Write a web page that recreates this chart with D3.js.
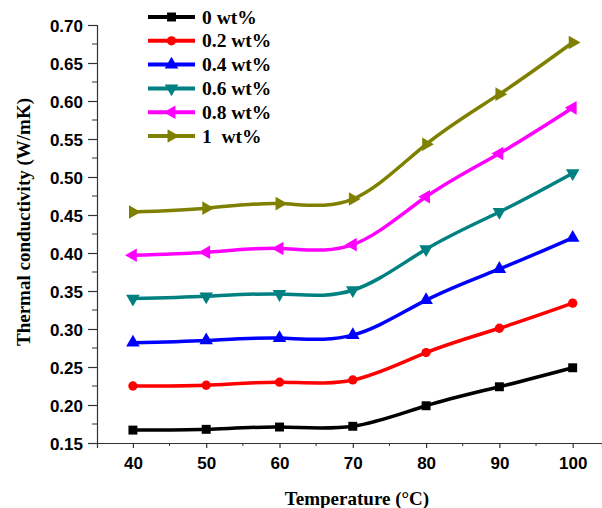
<!DOCTYPE html>
<html>
<head>
<meta charset="utf-8">
<script src="https://cdn.jsdelivr.net/npm/d3@7"></script>
<style>
  body { margin: 0; background: #fff; }
  svg { display: block; }
  .tick text { font-family: "Liberation Sans", Arial, sans-serif; font-weight: bold; font-size: 17px; fill: #000; }
  .title { font-family: "Liberation Serif", "Times New Roman", serif; font-weight: bold; font-size: 19px; fill: #000; }
  .leg { font-family: "Liberation Serif", "Times New Roman", serif; font-weight: bold; font-size: 19.5px; fill: #000; white-space: pre; }
</style>
</head>
<body>
<div id="chart"></div>
<script>
// data
var temps = [40, 50, 60, 70, 80, 90, 100];
var labels = ['0 wt%', '0.2 wt%', '0.4 wt%', '0.6 wt%', '0.8 wt%', '1  wt%'];
var colors = ['#000000', '#ff0000', '#0000ff', '#008080', '#ff00ff', '#808000'];
var markers = ['square', 'circle', 'up', 'down', 'left', 'right'];

var wt0  = [0.167, 0.168, 0.171, 0.172, 0.199, 0.224, 0.249];
var wt02 = [0.225, 0.226, 0.230, 0.233, 0.269, 0.301, 0.334];
var wt04 = [0.282, 0.285, 0.288, 0.292, 0.338, 0.379, 0.420];
var wt06 = [0.340, 0.343, 0.346, 0.351, 0.405, 0.454, 0.505];
var wt08 = [0.397, 0.401, 0.406, 0.411, 0.474, 0.531, 0.591];
var wt1  = [0.454, 0.459, 0.465, 0.471, 0.543, 0.609, 0.677];
var series = [wt0, wt02, wt04, wt06, wt08, wt1];

var yTicks = [0.15, 0.20, 0.25, 0.30, 0.35, 0.40, 0.45, 0.50, 0.55, 0.60, 0.65, 0.70];
var yMinor = [0.175, 0.225, 0.275, 0.325, 0.375, 0.425, 0.475, 0.525, 0.575, 0.625, 0.675];
var xTicks = [40, 50, 60, 70, 80, 90, 100];
var xMinor = [45, 55, 65, 75, 85, 95];

var W = 602, H = 508;
var svg = d3.select("#chart").append("svg").attr("width", W).attr("height", H);

var x = d3.scaleLinear().domain([35.1, 104]).range([97, 602]);
var y = d3.scaleLinear().domain([0.15, 0.70]).range([443, 25]);

// axes
var xAxis = svg.append("g").attr("transform", "translate(0,443)")
  .call(d3.axisBottom(x).tickValues(xTicks).tickSize(5).tickPadding(9).tickFormat(d3.format("d")));
xAxis.append("g").selectAll("line").data(xMinor).enter().append("line")
  .attr("x1", x).attr("x2", x).attr("y1", 0).attr("y2", 3).attr("stroke", "#333");

var yAxis = svg.append("g").attr("transform", "translate(97,0)")
  .call(d3.axisLeft(y).tickValues(yTicks).tickSize(9).tickPadding(5).tickFormat(d3.format(".2f")));
yAxis.append("g").selectAll("line").data(yMinor).enter().append("line")
  .attr("y1", y).attr("y2", y).attr("x1", 0).attr("x2", -5).attr("stroke", "#333");

svg.selectAll(".domain").attr("stroke", "#333").attr("stroke-width", 1.2);
svg.selectAll(".tick line").attr("stroke", "#333").attr("stroke-width", 1.2);
yAxis.selectAll(".tick text").attr("dy", "0.36em");
xAxis.selectAll(".tick text").attr("dy", "0.71em");

// titles
svg.append("text").attr("class", "title")
  .attr("x", 357).attr("y", 505).attr("text-anchor", "middle").text("Temperature (°C)");
svg.append("text").attr("class", "title")
  .attr("transform", "translate(30,222) rotate(-90)").attr("text-anchor", "middle")
  .text("Thermal conductivity (W/mK)");

// markers
function markerPath(type, size) {
  if (type == 'square') return d3.symbol().type(d3.symbolSquare).size(size)();
  if (type == 'circle') return d3.symbol().type(d3.symbolCircle).size(size * 0.85)();
  return d3.symbol().type(d3.symbolTriangle).size(size)();
}
function markerRot(type) {
  return {up: 0, down: 180, left: -90, right: 90}[type] || 0;
}

var line = d3.line().x(function(d) { return x(d[0]); }).y(function(d) { return y(d[1]); })
  .curve(d3.curveNatural);

series.forEach(function(vals, i) {
  var pts = temps.map(function(t, j) { return [t, vals[j]]; });
  svg.append("path").datum(pts).attr("d", line)
    .attr("fill", "none").attr("stroke", colors[i]).attr("stroke-width", 3.5);
  svg.append("g").selectAll("path").data(pts).enter().append("path")
    .attr("d", markerPath(markers[i], 80))
    .attr("transform", function(d) { return "translate(" + x(d[0]) + "," + y(d[1]) + ") rotate(" + markerRot(markers[i]) + ")"; })
    .attr("fill", colors[i]);
});

// legend
var leg = svg.append("g");
labels.forEach(function(l, i) {
  var ly = 17 + i * 23.8;
  leg.append("line").attr("x1", 148).attr("x2", 195).attr("y1", ly).attr("y2", ly)
    .attr("stroke", colors[i]).attr("stroke-width", 4);
  leg.append("path").attr("d", markerPath(markers[i], 80))
    .attr("transform", "translate(171.5," + ly + ") rotate(" + markerRot(markers[i]) + ")")
    .attr("fill", colors[i]);
  leg.append("text").attr("class", "leg").attr("x", 202).attr("y", ly + 6.5).text(l);
});
</script>
</body>
</html>
